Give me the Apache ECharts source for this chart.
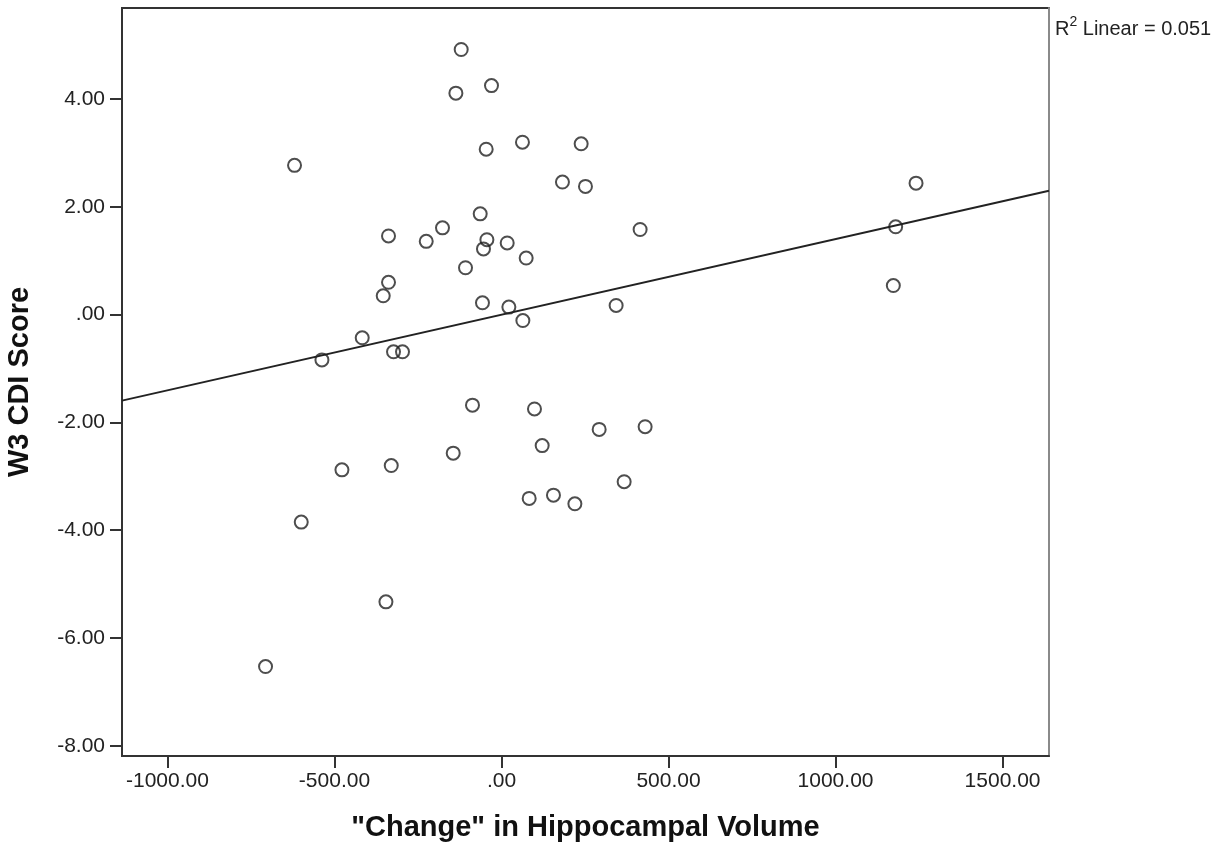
<!DOCTYPE html>
<html>
<head>
<meta charset="utf-8">
<script src="https://cdn.jsdelivr.net/npm/echarts@6/dist/echarts.min.js"></script>
<style>
  html, body { margin: 0; padding: 0; background: #fff; }
  #chart { width: 1230px; height: 852px; }
</style>
</head>
<body>
<div id="chart"></div>
<script>
  // "Change" in hippocampal volume (x) vs W3 CDI score (y)
  const volumeChange = [
    -120.6, -29.9, -136.5, -619.5, -45.8, 62.8, 238.5, 182.5, 251.4, 1241,
    -63.7, -176.6, -225.3, -338.2, -43.7, -53.9, 17.1, 73.9, 415, 1180,
    -107.7, -338.2, -354, -56.9, 22.1, 343.2, 64, 1173, -416.9, -537.5,
    -323.2, -296.3, -86.8, 98.8, 292.4, 430, 121.8, -144.5, -477.6, -330,
    367.2, 82.9, 155.6, 219.7, -599.4, -345.9, -706.3
  ];
  const cdiScore = [
    4.92, 4.25, 4.11, 2.77, 3.07, 3.20, 3.17, 2.46, 2.38, 2.44,
    1.87, 1.61, 1.36, 1.46, 1.39, 1.22, 1.33, 1.05, 1.58, 1.63,
    0.87, 0.60, 0.35, 0.22, 0.14, 0.17, -0.11, 0.54, -0.43, -0.84,
    -0.69, -0.69, -1.68, -1.75, -2.13, -2.08, -2.43, -2.57, -2.88, -2.80,
    -3.10, -3.41, -3.35, -3.51, -3.85, -5.33, -6.53
  ];

  const xTicks = [-1000, -500, 0, 500, 1000, 1500];
  const xTickLabels = ['-1000.00', '-500.00', '.00', '500.00', '1000.00', '1500.00'];
  const yTicks = [-8, -6, -4, -2, 0, 2, 4];
  const yTickLabels = ['-8.00', '-6.00', '-4.00', '-2.00', '.00', '2.00', '4.00'];

  const xMin = -1136, xMax = 1639;
  const yMin = -8.19, yMax = 5.69;

  // least squares fit line
  let n = volumeChange.length, mx = 0, my = 0;
  for (let i = 0; i < n; i++) { mx += volumeChange[i]; my += cdiScore[i]; }
  mx /= n; my /= n;
  let sxy = 0, sxx = 0;
  for (let i = 0; i < n; i++) {
    sxy += (volumeChange[i] - mx) * (cdiScore[i] - my);
    sxx += (volumeChange[i] - mx) * (volumeChange[i] - mx);
  }
  const slope = sxy / sxx;
  const intercept = my - slope * mx;
  const fitLine = [[xMin, intercept + slope * xMin], [xMax, intercept + slope * xMax]];

  const points = volumeChange.map((v, i) => [v, cdiScore[i]]);

  const chart = echarts.init(document.getElementById('chart'));
  const font = 'Liberation Sans, Arial, sans-serif';

  chart.setOption({
    animation: false,
    textStyle: { fontFamily: font },
    title: {
      left: 1050,
      top: 10,
      text: '{r|R}{s|2}{r| Linear = 0.051}',
      textStyle: {
        fontWeight: 'normal',
        rich: {
          r: { fontSize: 20, fontWeight: 'normal', color: '#222', fontFamily: font, verticalAlign: 'bottom', lineHeight: 24 },
          s: { fontSize: 14, fontWeight: 'normal', color: '#222', fontFamily: font, verticalAlign: 'top', lineHeight: 16 }
        }
      }
    },
    grid: {
      left: 122, top: 8, width: 927, height: 748,
      containLabel: false,
      outerBoundsMode: 'none',
      show: true,
      borderColor: '#333',
      borderWidth: 2,
      backgroundColor: '#fff'
    },
    xAxis: {
      type: 'value',
      min: xMin,
      max: xMax,
      name: '"Change" in Hippocampal Volume',
      nameLocation: 'middle',
      nameGap: 57,
      nameTextStyle: { fontSize: 29, fontWeight: 'bold', color: '#111', fontFamily: font },
      axisLine: { show: true, onZero: false, lineStyle: { color: '#333', width: 2 } },
      axisTick: { show: true, customValues: xTicks, length: 12, lineStyle: { color: '#333', width: 2 } },
      axisLabel: {
        customValues: xTicks,
        margin: 15,
        fontSize: 21,
        color: '#222',
        formatter: v => xTickLabels[xTicks.indexOf(v)]
      },
      splitLine: { show: false }
    },
    yAxis: [{
      type: 'value',
      min: yMin,
      max: yMax,
      name: 'W3 CDI Score',
      nameLocation: 'middle',
      nameGap: 88,
      nameRotate: 90,
      nameTextStyle: { fontSize: 29, fontWeight: 'bold', color: '#111', fontFamily: font },
      axisLine: { show: true, onZero: false, lineStyle: { color: '#333', width: 2 } },
      axisTick: { show: true, customValues: yTicks, length: 12, lineStyle: { color: '#333', width: 2 } },
      axisLabel: {
        customValues: yTicks,
        margin: 17,
        fontSize: 21,
        color: '#222',
        formatter: v => yTickLabels[yTicks.indexOf(v)]
      },
      splitLine: { show: false }
    }, {
      type: 'value',
      position: 'right',
      min: yMin,
      max: yMax,
      axisLine: { show: true, onZero: false, lineStyle: { color: '#8a8a8a', width: 2 } },
      axisTick: { show: false },
      axisLabel: { show: false },
      splitLine: { show: false }
    }],
    series: [{
      type: 'line',
      data: fitLine,
      symbol: 'none',
      lineStyle: { color: '#222', width: 2 },
      silent: true,
      z: 1
    }, {
      type: 'scatter',
      data: points,
      symbol: 'circle',
      symbolSize: 13,
      itemStyle: { color: 'transparent', borderColor: '#222', borderWidth: 2 },
      z: 2
    }]
  });
</script>
</body>
</html>
